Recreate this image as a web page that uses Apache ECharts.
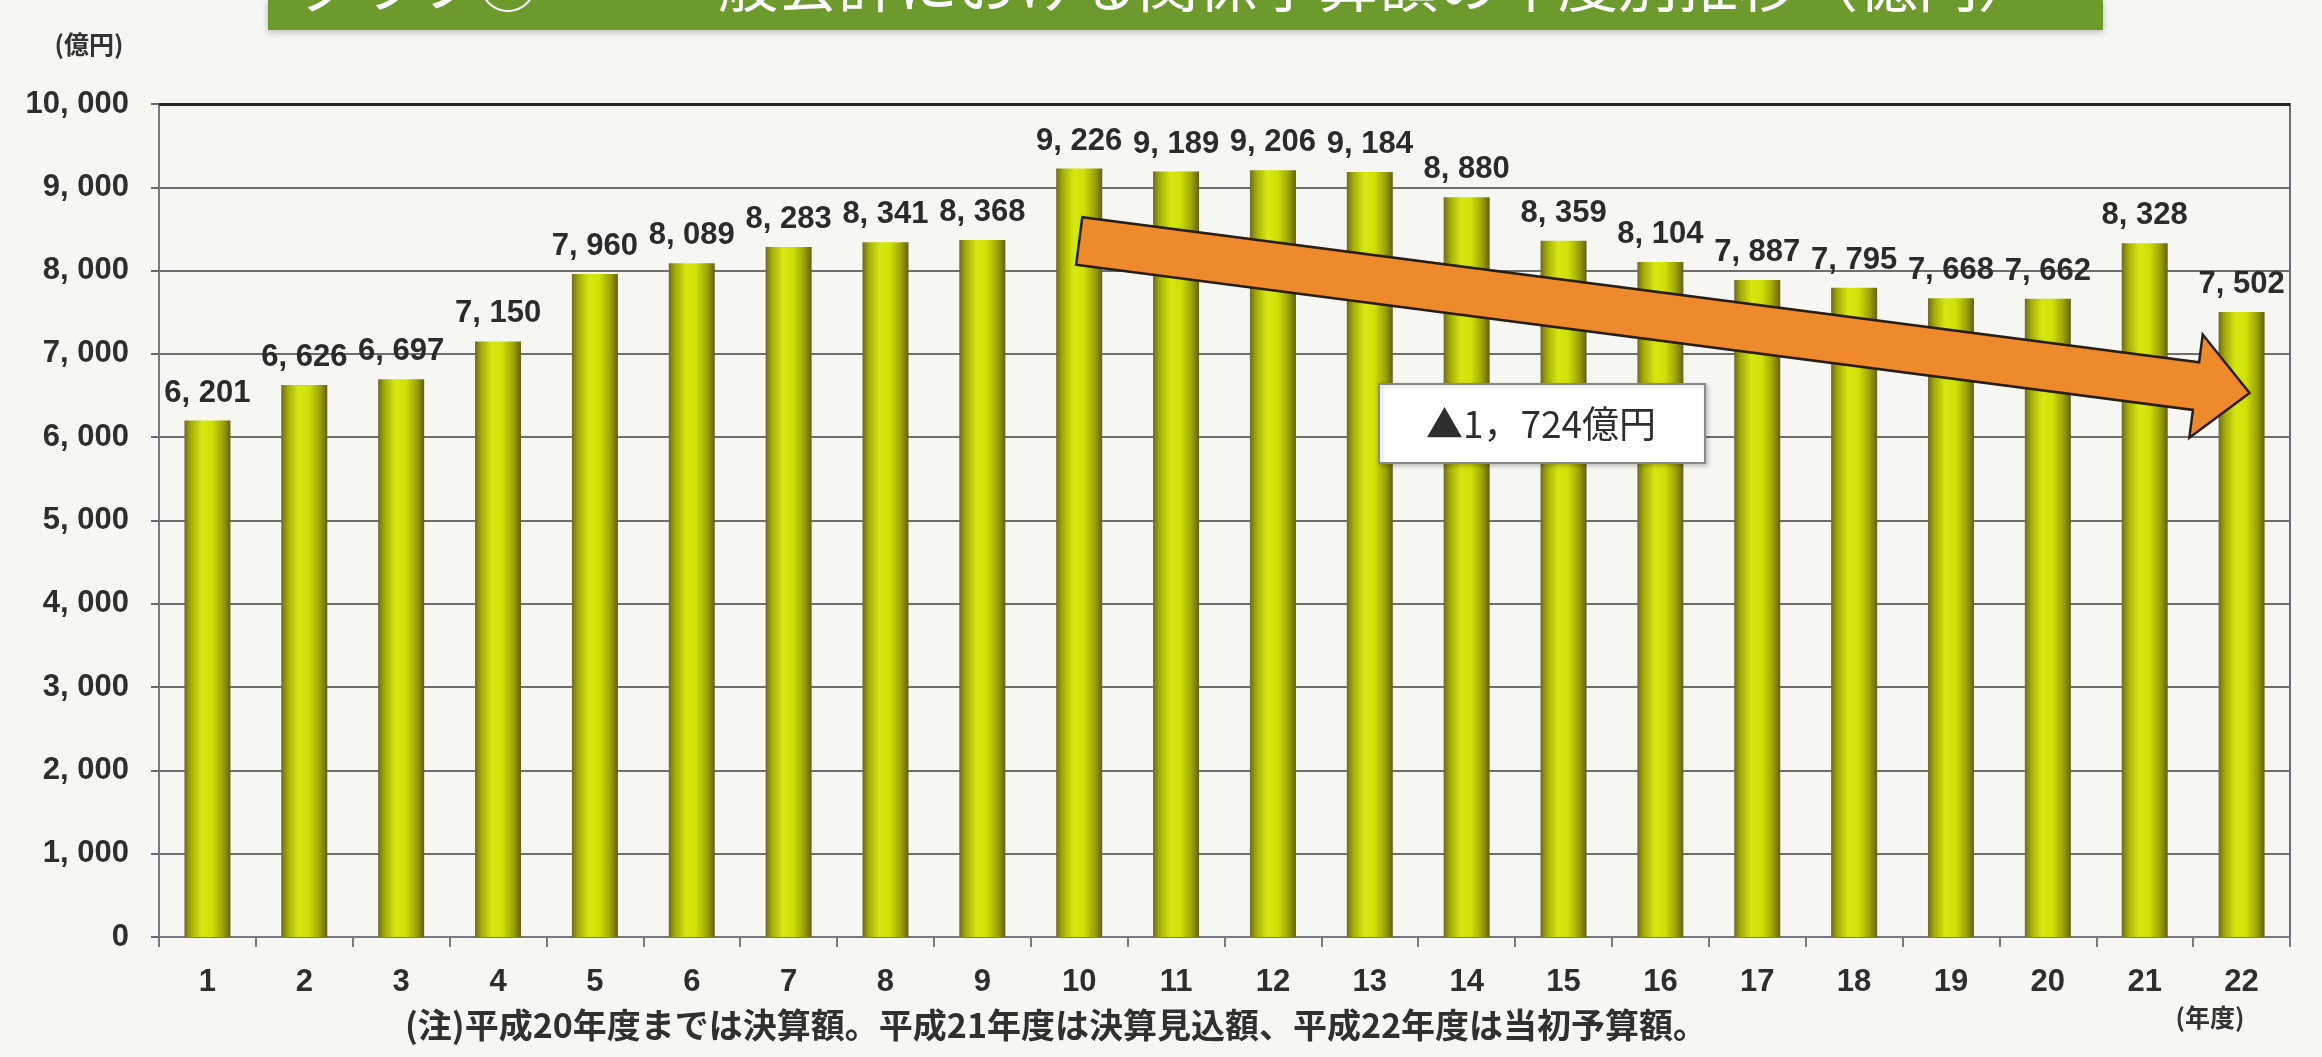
<!DOCTYPE html>
<html>
<head>
<meta charset="UTF-8">
<title>年度別推移</title>
<script src="https://cdn.jsdelivr.net/npm/echarts@6/dist/echarts.min.js"></script>
<style>
  html, body { margin: 0; padding: 0; background: #f6f6f3; }
  #main { width: 2322px; height: 1057px; }
</style>
</head>
<body>
<div id="main"></div>
<script>
// 年度（平成）
var years = ['1','2','3','4','5','6','7','8','9','10','11','12','13','14','15','16','17','18','19','20','21','22'];
// 金額（億円）
var amounts = [6201, 6626, 6697, 7150, 7960, 8089, 8283, 8341, 8368, 9226, 9189, 9206, 9184, 8880, 8359, 8104, 7887, 7795, 7668, 7662, 8328, 7502];
// 目盛
var yMin = 0, yMax = 10000, yStep = 1000;
// 矢印の始点・終点（カテゴリ番号, 値）
var arrowFrom = [9, 8355];
var arrowTo = [21, 6530];
var arrowNote = '▲1，724億円';
var footNote = '(注)平成20年度までは決算額。平成21年度は決算見込額、平成22年度は当初予算額。';
var titleText = 'グラフ⑦　　一般会計における関係予算額の年度別推移（億円）';

var numFont = "'Liberation Sans', Arial, sans-serif";
var jpFont = "'Noto Sans CJK JP', sans-serif";

function fmt(v) {
  return String(v).replace(/\B(?=(\d{3})+(?!\d))/g, ', ');
}

var myChart = echarts.init(document.getElementById('main'));

var option = {
  backgroundColor: '#f6f6f3',
  animation: false,
  grid: {
    left: 159, right: 32, top: 104, bottom: 120,
    show: true, borderColor: '#6c6c78', borderWidth: 2
  },
  xAxis: {
    type: 'category',
    data: years,
    axisLine: { lineStyle: { color: '#7a7a86', width: 2 } },
    axisTick: { show: true, length: 10, lineStyle: { color: '#7a7a86', width: 2 } },
    axisLabel: { margin: 30, fontSize: 31, fontWeight: 'bold', color: '#2e2e2e', fontFamily: numFont }
  },
  yAxis: {
    type: 'value',
    min: yMin, max: yMax, interval: yStep,
    axisLine: { show: true, lineStyle: { color: '#7a7a86', width: 2 } },
    axisTick: { show: true, length: 8, lineStyle: { color: '#6a6a6a', width: 2 } },
    axisLabel: { margin: 30, fontSize: 31, fontWeight: 'bold', color: '#2e2e2e', fontFamily: numFont, formatter: fmt },
    splitLine: { lineStyle: { color: '#6e6e6e', width: 2 } }
  },
  series: [{
    type: 'bar',
    data: amounts,
    barWidth: 46,
    itemStyle: {
      color: new echarts.graphic.LinearGradient(0, 0, 1, 0, [
        { offset: 0, color: '#6f6a1e' },
        { offset: 0.14, color: '#a3ad06' },
        { offset: 0.38, color: '#d6e812' },
        { offset: 0.6, color: '#cfe004' },
        { offset: 0.84, color: '#9aa205' },
        { offset: 1, color: '#655e1c' }
      ])
    },
    label: {
      show: true, position: 'top', distance: 12,
      fontSize: 31, fontWeight: 'bold', color: '#2b2b2b', fontFamily: numFont,
      formatter: function (p) { return fmt(p.value); }
    },
    markLine: {
      silent: true, symbol: 'none', label: { show: false },
      lineStyle: { color: '#262626', width: 3, type: 'solid' },
      data: [{ yAxis: yMax }]
    }
  }]
};

myChart.setOption(option);

// 矢印を軸の座標から作る
var p0 = myChart.convertToPixel({ xAxisIndex: 0, yAxisIndex: 0 }, arrowFrom);
var p1 = myChart.convertToPixel({ xAxisIndex: 0, yAxisIndex: 0 }, arrowTo);
p1[0] += 8;
var dx = p1[0] - p0[0], dy = p1[1] - p0[1];
var len = Math.sqrt(dx * dx + dy * dy);
var ux = dx / len, uy = dy / len;
var nx = -uy, ny = ux;
var w = 24, hw = 52, hl = 54;
var nb = [p1[0] - ux * hl, p1[1] - uy * hl];
var arrowPts = [
  [p0[0] + nx * w, p0[1] + ny * w],
  [nb[0] + nx * w, nb[1] + ny * w],
  [nb[0] + nx * hw, nb[1] + ny * hw],
  [p1[0], p1[1]],
  [nb[0] - nx * hw, nb[1] - ny * hw],
  [nb[0] - nx * w, nb[1] - ny * w],
  [p0[0] - nx * w, p0[1] - ny * w]
];

myChart.setOption({
  graphic: [
    {
      type: 'rect', left: 268, top: 0, z: 10,
      shape: { width: 1835, height: 30 },
      style: { fill: '#6c9a2c', shadowBlur: 6, shadowColor: 'rgba(0,0,0,0.25)', shadowOffsetY: 2 }
    },
    {
      type: 'text', x: 298, y: -16, z: 11,
      style: { text: titleText, fill: '#ffffff', font: '60px ' + jpFont, textVerticalAlign: 'middle' }
    },
    {
      type: 'text', x: 89, y: 44, z: 11,
      style: { text: '(億円)', fill: '#333', font: 'bold 25px ' + jpFont, textAlign: 'center', textVerticalAlign: 'middle' }
    },
    {
      type: 'text', x: 2210, y: 1017, z: 11,
      style: { text: '(年度)', fill: '#333', font: 'bold 25px ' + jpFont, textAlign: 'center', textVerticalAlign: 'middle' }
    },
    {
      type: 'text', x: 405, y: 1025, z: 11,
      style: { text: footNote, fill: '#303030', font: 'bold 34px ' + jpFont, textVerticalAlign: 'middle' }
    },
    {
      type: 'polygon', z: 20,
      shape: { points: arrowPts },
      style: { fill: '#ef8a2c', stroke: '#2a1f16', lineWidth: 2.5 }
    },
    {
      type: 'rect', left: 1378, top: 383, z: 20,
      shape: { width: 326, height: 79 },
      style: { fill: '#ffffff', stroke: '#8a8a8a', lineWidth: 2, shadowBlur: 4, shadowColor: 'rgba(0,0,0,0.2)', shadowOffsetX: 2, shadowOffsetY: 2 }
    },
    {
      type: 'text', x: 1541, y: 424, z: 21,
      style: { text: arrowNote, fill: '#2e2e2e', font: '37px ' + jpFont, textAlign: 'center', textVerticalAlign: 'middle' }
    }
  ]
});
</script>
</body>
</html>
